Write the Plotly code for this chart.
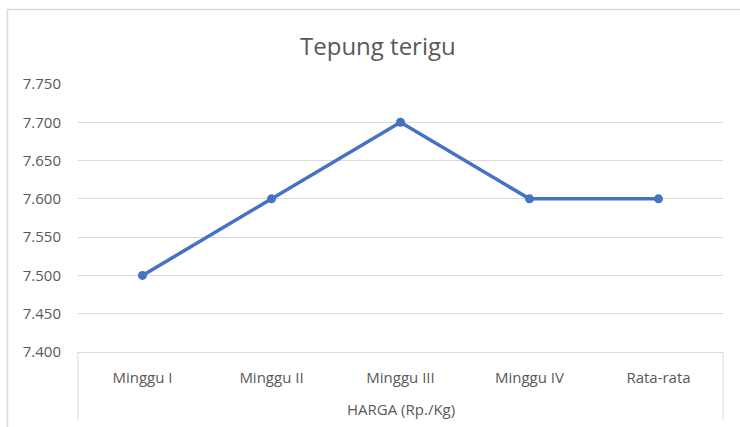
import plotly.graph_objects as go

categories = ["Minggu I", "Minggu II", "Minggu III", "Minggu IV", "Rata-rata"]
prices = [7500, 7600, 7700, 7600, 7600]
y_ticks = [7400, 7450, 7500, 7550, 7600, 7650, 7700, 7750]
title_text = "Tepung terigu"
group_label = "HARGA (Rp./Kg)"

W, H = 740, 427
L, R, T, B = 78, 723, 84, 352
pw, ph = R - L, B - T

def px_x(x):
    return (x - L) / pw

def px_y(y):
    return (B - y) / ph

fig = go.Figure()
fig.add_trace(go.Scatter(
    x=categories, y=prices, mode="lines+markers",
    line=dict(color="#4472C4", width=3.5),
    marker=dict(color="#4472C4", size=9),
    showlegend=False, hoverinfo="skip",
))

font_fam = "Open Sans, Carlito, Liberation Sans, sans-serif"
fig.update_layout(
    width=W, height=H,
    margin=dict(l=L, r=W - R, t=T, b=H - B, pad=0),
    paper_bgcolor="white", plot_bgcolor="white",
    separators=",.",
    font=dict(family=font_fam, color="#595959", size=14),
    xaxis=dict(
        type="category", range=[-0.5, 4.5], showgrid=False,
        showline=True, linecolor="#d9d9d9", linewidth=1,
        ticks="", tickfont=dict(size=15, color="#595959"),
        ticklabelstandoff=12, zeroline=False,
    ),
    yaxis=dict(
        range=[7400, 7750], tickvals=y_ticks, tickformat=",d",
        showgrid=True, gridcolor="#d9d9d9", gridwidth=1,
        showline=False, zeroline=False, ticks="",
        tickfont=dict(size=15, color="#595959"),
        ticklabelstandoff=16,
    ),
    annotations=[
        dict(text=title_text, xref="paper", yref="paper",
             x=px_x(378), y=px_y(45), xanchor="center", yanchor="middle",
             showarrow=False, font=dict(size=24, color="#595959", family=font_fam)),
        dict(text=group_label, xref="paper", yref="paper",
             x=0.5, y=px_y(409), xanchor="center", yanchor="middle",
             showarrow=False, font=dict(size=15, color="#595959", family=font_fam)),
    ],
    shapes=[
        dict(type="line", xref="paper", yref="paper", x0=0, x1=0,
             y0=0, y1=px_y(420), line=dict(color="#d9d9d9", width=1)),
        dict(type="line", xref="paper", yref="paper", x0=1, x1=1,
             y0=0, y1=px_y(420), line=dict(color="#d9d9d9", width=1)),
        dict(type="rect", xref="paper", yref="paper",
             x0=px_x(7.5), x1=px_x(760), y0=px_y(440), y1=px_y(9.5),
             line=dict(color="#d9d9d9", width=1.5), fillcolor="rgba(0,0,0,0)",
             layer="below"),
    ],
)

fig.write_html("out.html", config={"displayModeBar": False},
               post_script="document.body.style.margin='0';")
